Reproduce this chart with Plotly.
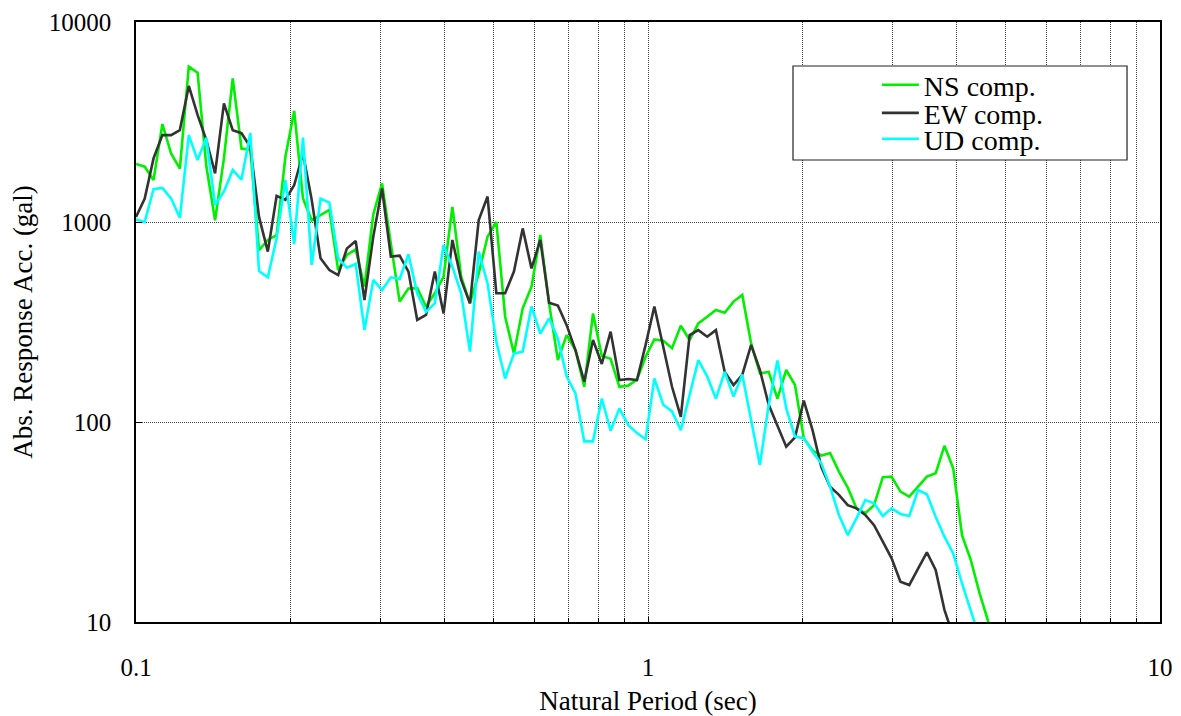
import plotly.graph_objects as go

# Natural period (sec)
period = [0.1000, 0.1040, 0.1082, 0.1126, 0.1171, 0.1218, 0.1268, 0.1319, 0.1372, 0.1427,
          0.1485, 0.1545, 0.1607, 0.1672, 0.1739, 0.1809, 0.1882, 0.1958, 0.2037, 0.2119,
          0.2204, 0.2293, 0.2386, 0.2482, 0.2582, 0.2686, 0.2794, 0.2907, 0.3024, 0.3146,
          0.3273, 0.3405, 0.3542, 0.3685, 0.3834, 0.3988, 0.4149, 0.4316, 0.4490, 0.4671,
          0.4860, 0.5056, 0.5260, 0.5472, 0.5692, 0.5922, 0.6161, 0.6409, 0.6667, 0.6936,
          0.7216, 0.7507, 0.7809, 0.8124, 0.8452, 0.8793, 0.9147, 0.9516, 0.9893, 1.029,
          1.071, 1.114, 1.159, 1.206, 1.254, 1.305, 1.357, 1.412, 1.469, 1.528,
          1.590, 1.654, 1.721, 1.790, 1.862, 1.937, 2.015, 2.096, 2.181, 2.268,
          2.360, 2.455, 2.554, 2.657, 2.764, 2.875, 2.991, 3.112, 3.238, 3.369,
          3.505, 3.646, 3.793, 3.946, 4.105, 4.271, 4.443, 4.622, 4.809, 5.000]

# NS component (gal)
ns_comp = [1950, 1890, 1620, 3090, 2200, 1850, 5980, 5580, 1900, 1020,
           2080, 5230, 2330, 2300, 724, 813, 860, 2120, 3590, 1310,
           1020, 1080, 1150, 575, 684, 730, 475, 1090, 1560, 780,
           400, 465, 467, 378, 440, 533, 1190, 533, 392, 554,
           845, 1000, 336, 220, 370, 475, 861, 392, 204, 272,
           229, 150, 349, 214, 207, 150, 152, 163, 212, 259,
           255, 234, 303, 257, 311, 336, 363, 352, 400, 432,
           247, 175, 178, 131, 182, 153, 83, 72, 68, 70,
           56.5, 47, 37, 35, 38.4, 53, 53.3, 44.9, 42.4, 47.5,
           53.3, 55.4, 76, 58.6, 27.2, 20.4, 13.9, 10.0, 7.5, 5.5]

# EW component (gal)
ew_comp = [1060, 1310, 2080, 2720, 2720, 2880, 4790, 3430, 2570, 1750,
           3920, 2880, 2780, 2380, 1060, 711, 1350, 1290, 1530, 2200,
           1290, 658, 575, 543, 738, 804, 407, 845, 1470, 671,
           679, 565, 324, 343, 565, 349, 813, 513, 392, 1023,
           1340, 440, 440, 565, 929, 586, 813, 395, 382, 305,
           229, 159, 257, 195, 283, 162, 164, 162, 243, 378,
           238, 150, 106, 272, 288, 267, 288, 178, 153, 172,
           243, 182, 122, 95, 75.3, 83.8, 128, 91, 59.3, 47.5,
           43.2, 38.4, 37, 34.3, 30.5, 25.2, 20.8, 15.9, 15.3, 18.5,
           22.3, 18.2, 11.5, 8.5, None, None, None, None, None, None]

# UD component (gal)
ud_comp = [1030, 1000, 1460, 1480, 1310, 1050, 2720, 2040, 2640, 1220,
           1420, 1820, 1630, 2780, 569, 529, 830, 1620, 776, 2640,
           610, 1310, 1250, 658, 591, 617, 288, 513, 457, 529,
           519, 689, 440, 356, 392, 767, 598, 440, 225, 711,
           493, 252, 165, 220, 225, 378, 277, 330, 262, 169,
           139, 80, 80, 131, 90.5, 117, 96.6, 88, 82, 165,
           122, 113, 91, 136, 204, 169, 131, 178, 134, 173,
           102, 61, 122, 203, 117, 84.5, 83, 71, 62, 47.5,
           34.3, 27.2, 33, 40.7, 39.2, 33.9, 37, 34.7, 33.9, 45.7,
           43.5, 33.6, 26.7, 22, 15.6, 11.5, 8.3, None, None, None]

x_major = [0.1, 1, 10]
x_major_text = ["0.1", "1", "10"]
x_minor = [0.2, 0.3, 0.4, 0.5, 0.6, 0.7, 0.8, 0.9, 2, 3, 4, 5, 6, 7, 8, 9]
y_major = [10, 100, 1000, 10000]
y_major_text = ["10", "100", "1000", "10000"]

FONT = "Liberation Serif, Times New Roman, serif"
GRID = "#444444"
GRIDDASH = "1px,1px"

fig = go.Figure()
fig.add_trace(go.Scatter(x=period, y=ns_comp, mode="lines", name="NS comp.",
                         line=dict(color="#00F000", width=2.6), legend="legend"))
fig.add_trace(go.Scatter(x=period, y=ew_comp, mode="lines", name="EW comp.",
                         line=dict(color="#333333", width=2.6), legend="legend2"))
fig.add_trace(go.Scatter(x=period, y=ud_comp, mode="lines", name="UD comp.",
                         line=dict(color="#00FFFF", width=2.6), legend="legend3"))

# legend frame
fig.add_shape(type="rect", xref="paper", yref="paper", x0=0.6416, x1=0.9678,
              y0=0.77, y1=0.9267, line=dict(color="#222222", width=1.2),
              fillcolor="white", layer="above")

leg_common = dict(xanchor="left", yanchor="middle", bgcolor="rgba(0,0,0,0)",
                  borderwidth=0, font=dict(family=FONT, size=28, color="black"),
                  itemwidth=37, tracegroupgap=0)
fig.update_layout(
    width=1181, height=716,
    margin=dict(l=136, r=21, t=22, b=94, autoexpand=False),
    paper_bgcolor="white", plot_bgcolor="white",
    font=dict(family=FONT, color="black"),
    showlegend=True,
    legend=dict(x=0.7235, y=0.895, **leg_common),
    legend2=dict(x=0.7235, y=0.848, **leg_common),
    legend3=dict(x=0.7235, y=0.805, **leg_common),
)

fig.update_xaxes(
    type="log", range=[-1, 1],
    tickvals=x_major, ticktext=x_major_text,
    tickfont=dict(family=FONT, size=25, color="black"),
    ticks="inside", ticklen=5, tickcolor="black",
    ticklabelstandoff=22,
    showgrid=True, gridcolor=GRID, griddash=GRIDDASH, gridwidth=1,
    minor=dict(tickvals=x_minor, showgrid=True, gridcolor=GRID, griddash=GRIDDASH,
               gridwidth=1, ticks="inside", ticklen=4, tickcolor="black"),
    showline=True, mirror=True, linecolor="black", linewidth=1.5,
    zeroline=False,
    title=dict(text="Natural Period (sec)", font=dict(family=FONT, size=27, color="black"),
               standoff=12),
)
fig.update_yaxes(
    type="log", range=[1, 4],
    tickvals=y_major, ticktext=y_major_text,
    tickfont=dict(family=FONT, size=25, color="black"),
    ticks="inside", ticklen=6, tickcolor="black",
    ticklabelstandoff=18,
    showgrid=True, gridcolor=GRID, griddash=GRIDDASH, gridwidth=1,
    showline=True, mirror=True, linecolor="black", linewidth=1.5,
    zeroline=False,
    title=dict(text="Abs. Response Acc. (gal)", font=dict(family=FONT, size=27, color="black"),
               standoff=8),
)

# remove the default 8px page margin so the 1181x716 figure fills the window
fig.write_html("out.html", config={"displayModeBar": False},
               post_script="document.body.style.margin='0px';")
